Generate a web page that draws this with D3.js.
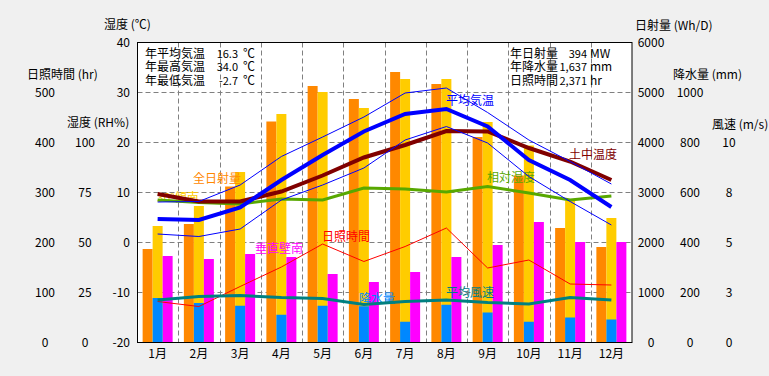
<!DOCTYPE html>
<html>
<head>
<meta charset="utf-8">
<script src="https://cdn.jsdelivr.net/npm/d3@7"></script>
<style>
  html, body { margin: 0; padding: 0; background: #f0f0f0; }
  svg { display: block; font-family: "Noto Sans CJK JP", sans-serif; }
</style>
</head>
<body>
<div id="climate"></div>
<script>
// Data
const months = ["1月", "2月", "3月", "4月", "5月", "6月", "7月", "8月", "9月", "10月", "11月", "12月"];
const solarTotal = [1870, 2370, 3120, 4420, 5130, 4870, 5410, 5170, 4110, 3340, 2290, 1910];   // 全日射量 Wh/D
const solarTilt = [2330, 2730, 3410, 4570, 5010, 4690, 5270, 5270, 4410, 3940, 2840, 2490];    // 30°傾南 Wh/D
const solarWall = [1730, 1670, 1770, 1710, 1370, 1210, 1410, 1710, 1950, 2410, 2010, 2010];    // 垂直壁南 Wh/D
const precipitation = [178, 158, 147, 111, 147, 145, 83, 151, 120, 83, 100, 92];               // 降水量 mm
const sunshine = [82, 72, 112, 151, 197, 162, 192, 229, 149, 165, 117, 115];                     // 日照時間 hr
const tempAvg = [4.7, 4.5, 7.0, 12.5, 17.5, 22.2, 25.7, 26.7, 23.2, 16.5, 12.5, 7.1];
const tempMax = [8.1, 8.2, 11.5, 17.2, 21.1, 25.1, 29.9, 30.9, 26.0, 20.5, 16.2, 11.7];
const tempMin = [1.7, 1.2, 2.7, 8.5, 11.5, 14.9, 20.5, 23.2, 19.9, 13.2, 8.2, 3.5];
const soilTemp = [9.7, 8.2, 8.2, 10.2, 13.4, 17.0, 19.5, 22.3, 22.2, 18.9, 16.2, 12.5];
const humidity = [71.3, 70.0, 69.3, 71.8, 71.3, 77.2, 76.8, 75.2, 78.0, 74.7, 71.3, 73.3];
const windSpeed = [2.13, 2.3, 2.35, 2.25, 2.2, 1.9, 2.05, 2.13, 2.0, 1.92, 2.25, 2.13];

const tempTicks = [-20, -10, 0, 10, 20, 30, 40];
const hourTicks = [0, 100, 200, 300, 400, 500];
const rhTicks = [0, 25, 50, 75, 100];
const solarTicks = [0, 1000, 2000, 3000, 4000, 5000, 6000];
const rainTicks = [0, 200, 400, 600, 800, 1000];
const windTicks = [0, 2.5, 5, 7.5, 10];

const infoLeft = [["年平均気温", "16.3", "℃"], ["年最高気温", "34.0", "℃"], ["年最低気温", "-2.7", "℃"]];
const infoRight = [["年日射量", "394", "MW"], ["年降水量", "1,637", "mm"], ["日照時間", "2,371", "hr"]];

const width = 769;
const height = 376;
const plot = { left: 137.5, right: 632, top: 42.5, bottom: 342.5 };
const fontJP = "Noto Sans CJK JP";

/*******************************/
/*    Append the containers    */
/*******************************/
const svg = d3.select("#climate")
  .append("svg")
    .attr("width", width)
    .attr("height", height)
    .attr("viewBox", [0, 0, width, height]);

svg.append("rect")
  .attr("width", width)
  .attr("height", height)
  .attr("fill", "#f0f0f0");

svg.append("rect")
  .attr("x", plot.left)
  .attr("y", plot.top)
  .attr("width", plot.right - plot.left)
  .attr("height", plot.bottom - plot.top)
  .attr("fill", "#ffffff");

// Scales
const xScale = d3.scaleBand()
  .domain(months)
  .range([plot.left - 0.5, plot.right]);
const barScale = d3.scaleBand()
  .domain(["total", "tilt", "wall"])
  .range([0, xScale.bandwidth()])
  .paddingOuter(0.5625);

const yTemp = d3.scaleLinear().domain([-20, 40]).range([plot.bottom, plot.top]);
const yHour = d3.scaleLinear().domain([0, 500]).range([plot.bottom, plot.bottom - 250]);
const yRH = d3.scaleLinear().domain([0, 100]).range([plot.bottom, plot.bottom - 200]);
const ySolar = d3.scaleLinear().domain([0, 6000]).range([plot.bottom, plot.top]);
const yRain = d3.scaleLinear().domain([0, 1000]).range([plot.bottom, plot.bottom - 250]);
const yWind = d3.scaleLinear().domain([0, 10]).range([plot.bottom, plot.bottom - 200]);

const cx = m => xScale(m) + xScale.bandwidth() / 2;

// Grid
const grid = svg.append("g")
  .attr("stroke", "#808080")
  .attr("stroke-dasharray", "5,3");
grid.selectAll("line.h")
  .data(tempTicks.slice(1, -1))
  .join("line")
    .attr("class", "h")
    .attr("x1", plot.left)
    .attr("x2", plot.right)
    .attr("y1", d => yTemp(d))
    .attr("y2", d => yTemp(d));
grid.selectAll("line.v")
  .data(months.slice(1))
  .join("line")
    .attr("class", "v")
    .attr("x1", d => Math.round(xScale(d)) + 0.5)
    .attr("x2", d => Math.round(xScale(d)) + 0.5)
    .attr("y1", plot.top)
    .attr("y2", plot.bottom);

// Bars
const bars = svg.append("g");
const barSeries = [
  { key: "total", values: solarTotal, scale: ySolar, color: "#ff8800" },
  { key: "tilt", values: solarTilt, scale: ySolar, color: "#ffcc00" },
  { key: "wall", values: solarWall, scale: ySolar, color: "#ff00ff" },
  { key: "tilt", values: precipitation, scale: yRain, color: "#0088ff" }
];
barSeries.forEach(s => {
  bars.append("g")
    .selectAll("rect")
    .data(months)
    .join("rect")
      .attr("x", (m, i) => xScale(m) + barScale(s.key))
      .attr("width", barScale.bandwidth())
      .attr("y", (m, i) => s.scale(s.values[i]))
      .attr("height", (m, i) => plot.bottom - s.scale(s.values[i]))
      .attr("fill", s.color);
});

// Series labels inside the plot
const seriesLabels = [
  { text: "全日射量", x: 193, y: 178, color: "#ff8800" },
  { text: "30°傾南", x: 157, y: 197, color: "#ffcc00" },
  { text: "垂直壁南", x: 255, y: 248, color: "#ff00ff" },
  { text: "日照時間", x: 322, y: 236, color: "#ff0000" },
  { text: "降水量", x: 359, y: 298, color: "#0088ff" },
  { text: "平均風速", x: 446, y: 292, color: "#008080" },
  { text: "相対湿度", x: 487, y: 177, color: "#58a800" },
  { text: "土中温度", x: 569, y: 154, color: "#800000" },
  { text: "平均気温", x: 446, y: 100, color: "#0000ff" }
];
svg.append("g")
  .selectAll("text")
  .data(seriesLabels)
  .join("text")
    .attr("x", d => d.x)
    .attr("y", d => d.y)
    .attr("dy", "0.38em")
    .attr("font-size", 12)
    .attr("fill", d => d.color)
    .text(d => d.text);

// Lines
const lineSeries = [
  { values: sunshine, scale: yHour, color: "#ff0000", w: 1 },
  { values: windSpeed, scale: yWind, color: "#008080", w: 3 },
  { values: humidity, scale: yRH, color: "#58a800", w: 3 },
  { values: soilTemp, scale: yTemp, color: "#800000", w: 4 },
  { values: tempMax, scale: yTemp, color: "#0000ff", w: 1 },
  { values: tempMin, scale: yTemp, color: "#0000ff", w: 1 },
  { values: tempAvg, scale: yTemp, color: "#0000ff", w: 4 }
];
lineSeries.forEach(s => {
  const lineGenerator = d3.line()
    .x((v, i) => cx(months[i]))
    .y(v => s.scale(v));
  svg.append("path")
    .attr("d", lineGenerator(s.values))
    .attr("fill", "none")
    .attr("stroke", s.color)
    .attr("stroke-width", s.w);
});

// Plot frame
svg.append("rect")
  .attr("x", plot.left)
  .attr("y", plot.top)
  .attr("width", plot.right - plot.left)
  .attr("height", plot.bottom - plot.top)
  .attr("fill", "none")
  .attr("stroke", "#000000");

// Info boxes: one text element each, rows as tspans
const drawInfo = (rows, xLabel, xValue, xUnit) => {
  const t = svg.append("text")
    .attr("font-size", 12)
    .attr("fill", "#000");
  rows.forEach((r, i) => {
    const y = 57.5 + i * 13.5;
    t.append("tspan").attr("x", xLabel).attr("y", y).text(r[0]);
    t.append("tspan").attr("x", xValue).attr("y", y)
      .attr("text-anchor", "end")
      .attr("font-size", 11)
      .text(r[1]);
    t.append("tspan").attr("x", xUnit).attr("y", y).text(r[2]);
  });
};
drawInfo(infoLeft, 145, 238, 243);
drawInfo(infoRight, 510, 587, 590);

/*******************************/
/*          The axes           */
/*******************************/
const makeAxis = (scale, ticks, xPos, anchor, fmt) => {
  const axis = d3.axisLeft(scale)
    .tickValues(ticks)
    .tickSize(0)
    .tickPadding(0)
    .tickFormat(fmt || (d => d));
  const g = svg.append("g")
    .attr("transform", `translate(${xPos}, 0)`)
    .call(axis);
  g.select(".domain").remove();
  g.attr("font-size", 12)
    .attr("font-family", fontJP)
    .attr("text-anchor", anchor);
  g.selectAll(".tick text").attr("fill", "#000");
};
makeAxis(yTemp, tempTicks, 130, "end");
makeAxis(yHour, hourTicks, 45, "middle");
makeAxis(yRH, rhTicks, 85, "middle");
makeAxis(ySolar, solarTicks, 651, "middle");
makeAxis(yRain, rainTicks, 690, "middle");
makeAxis(yWind, windTicks, 729, "middle", d => Math.round(d));

const bottomAxis = d3.axisBottom(xScale)
  .tickSize(0)
  .tickPadding(7);
const gx = svg.append("g")
  .attr("transform", `translate(0, ${plot.bottom})`)
  .call(bottomAxis);
gx.select(".domain").remove();
gx.attr("font-size", 12).attr("font-family", fontJP);
gx.selectAll(".tick text").attr("fill", "#000");

// Axis titles
const axisTitles = [
  { text: "湿度 (℃)", x: 104, y: 24 },
  { text: "日照時間 (hr)", x: 27, y: 74 },
  { text: "湿度 (RH%)", x: 67, y: 122 },
  { text: "日射量 (Wh/D)", x: 635, y: 25 },
  { text: "降水量 (mm)", x: 673, y: 74 },
  { text: "風速 (m/s)", x: 712, y: 124 }
];
svg.append("g")
  .selectAll("text")
  .data(axisTitles)
  .join("text")
    .attr("x", d => d.x)
    .attr("y", d => d.y)
    .attr("dy", "0.38em")
    .attr("font-size", 12)
    .attr("fill", "#000")
    .text(d => d.text);
</script>
</body>
</html>
